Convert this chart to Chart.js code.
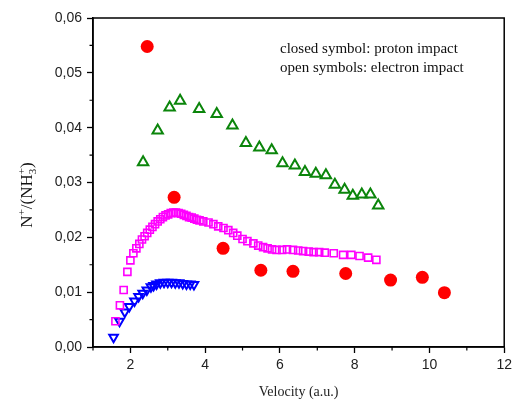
<!DOCTYPE html>
<html><head><meta charset="utf-8">
<script src="https://cdn.jsdelivr.net/npm/chart.js@4"></script>
<style>html,body{margin:0;padding:0;background:#fff;}#wrap{width:516px;height:403px;}</style>
</head><body><div id="wrap"><canvas id="c" width="516" height="403"></canvas></div>
<script>
// ---- data ----
const protonX = [2.45, 3.17, 4.48, 5.49, 6.35, 7.76, 8.96, 9.81, 10.40];
const protonY = [0.0548, 0.0273, 0.0180, 0.0140, 0.0138, 0.0134, 0.0122, 0.0127, 0.0099];

const greenX = [2.34, 2.73, 3.05, 3.33, 3.84, 4.31, 4.73, 5.09, 5.45, 5.78, 6.07, 6.40, 6.67, 6.96, 7.23, 7.47, 7.73, 7.95, 8.19, 8.42, 8.63];
const greenY = [0.0337, 0.0395, 0.0437, 0.0449, 0.0434, 0.0425, 0.0404, 0.0372, 0.0364, 0.0359, 0.0335, 0.0331, 0.0319, 0.0316, 0.0313, 0.0296, 0.0287, 0.0276, 0.0278, 0.0278, 0.0258];

const magentaX = [1.60, 1.72, 1.82, 1.92, 2.00, 2.08, 2.16, 2.24, 2.31, 2.38, 2.45, 2.52, 2.59, 2.66, 2.73, 2.80, 2.87, 2.94, 3.01, 3.08, 3.15, 3.22, 3.29, 3.36, 3.43, 3.50, 3.57, 3.64, 3.71, 3.78, 3.85, 3.95, 4.09, 4.22, 4.35, 4.49, 4.62, 4.75, 4.86, 5.00, 5.13, 5.29, 5.42, 5.55, 5.67, 5.79, 5.91, 6.06, 6.19, 6.35, 6.49, 6.62, 6.77, 6.90, 7.05, 7.20, 7.44, 7.69, 7.91, 8.13, 8.36, 8.58];
const magentaY = [0.0047, 0.0076, 0.0104, 0.0137, 0.0158, 0.0171, 0.0180, 0.0188, 0.0196, 0.0202, 0.0208, 0.0214, 0.0219, 0.0224, 0.0229, 0.0233, 0.0237, 0.0240, 0.0242, 0.0244, 0.0245, 0.0245, 0.0244, 0.0243, 0.0241, 0.0239, 0.0237, 0.0236, 0.0234, 0.0232, 0.0231, 0.0229, 0.0227, 0.0224, 0.0220, 0.0217, 0.0213, 0.0208, 0.0203, 0.0197, 0.0193, 0.0189, 0.0185, 0.0182, 0.0180, 0.0178, 0.0177, 0.0177, 0.0178, 0.0177, 0.0176, 0.0175, 0.0174, 0.0173, 0.0173, 0.0172, 0.0171, 0.0168, 0.0168, 0.0166, 0.0163, 0.0159];

const blueX = [1.55, 1.71, 1.85, 1.97, 2.11, 2.22, 2.33, 2.44, 2.55, 2.62, 2.70, 2.80, 2.90, 3.00, 3.10, 3.20, 3.30, 3.40, 3.50, 3.60, 3.70];
const blueY = [0.0018, 0.0047, 0.0064, 0.0074, 0.0084, 0.0092, 0.0098, 0.0104, 0.0110, 0.0112, 0.0115, 0.0117, 0.0118, 0.0118, 0.0118, 0.0117, 0.0117, 0.0116, 0.0115, 0.0115, 0.0114];

const xTicks = [2, 4, 6, 8, 10, 12];
const xMinorTicks = [1, 3, 5, 7, 9, 11];
const yTicks = [0, 0.01, 0.02, 0.03, 0.04, 0.05, 0.06];
const yMinorTicks = [0.005, 0.015, 0.025, 0.035, 0.045, 0.055];
const xTitle = 'Velocity (a.u.)';
const noteLines = ['closed symbol: proton impact', 'open symbols: electron impact'];

function pts(xs, ys) { return xs.map((x, i) => ({ x: x, y: ys[i] })); }

const SERIF = "'Liberation Serif', 'Times New Roman', serif";
Chart.defaults.font.family = "'Liberation Sans', Arial, sans-serif";

const decor = {
  id: 'decor',
  afterDraw(chart) {
    const ctx = chart.ctx, a = chart.chartArea, sx = chart.scales.x, sy = chart.scales.y;
    ctx.save();
    ctx.strokeStyle = '#000';
    ctx.lineWidth = 1.5;
    ctx.strokeRect(a.left, a.top, a.right - a.left, a.bottom - a.top);
    ctx.lineWidth = 1.2;
    ctx.beginPath();
    xMinorTicks.forEach(v => { const p = sx.getPixelForValue(v); ctx.moveTo(p, a.bottom); ctx.lineTo(p, a.bottom + 3.5); });
    yMinorTicks.forEach(v => { const p = sy.getPixelForValue(v); ctx.moveTo(a.left, p); ctx.lineTo(a.left - 3.5, p); });
    ctx.stroke();

    // annotation
    ctx.fillStyle = '#111';
    ctx.font = '15px ' + SERIF;
    ctx.textAlign = 'left';
    ctx.textBaseline = 'alphabetic';
    ctx.fillText(noteLines[0], 280, 53);
    ctx.fillText(noteLines[1], 280, 72);

    // y title N+/(NH3+)
    ctx.textBaseline = 'middle';
    ctx.translate(28, 195);
    ctx.rotate(-Math.PI / 2);
    const big = '17px ' + SERIF, small = '11px ' + SERIF;
    const segs = [
      { t: 'N', f: big, dy: 0 },
      { t: '+', f: small, dy: -6 },
      { t: '/(NH', f: big, dy: 0 },
      { t: '3', f: small, dy: 5, t2: '+', dy2: -6 },
      { t: ')', f: big, dy: 0 }
    ];
    let w = 0;
    segs.forEach(s => { ctx.font = s.f; s.w = ctx.measureText(s.t).width; if (s.t2) s.w = Math.max(s.w, ctx.measureText(s.t2).width); w += s.w; });
    let xx = -w / 2;
    ctx.textAlign = 'left';
    segs.forEach(s => {
      ctx.font = s.f;
      ctx.fillText(s.t, xx, s.dy);
      if (s.t2) ctx.fillText(s.t2, xx, s.dy2);
      xx += s.w;
    });
    ctx.restore();
  }
};

new Chart(document.getElementById('c'), {
  type: 'scatter',
  data: {
    datasets: [
      { label: 'proton', data: pts(protonX, protonY), pointStyle: 'circle', pointRadius: 6.5, backgroundColor: '#ff0000', borderColor: '#ff0000', borderWidth: 0 },
      { label: 'electron A', data: pts(greenX, greenY), pointStyle: 'triangle', pointRadius: 6, backgroundColor: 'rgba(0,0,0,0)', borderColor: '#0b850b', borderWidth: 2 },
      { label: 'electron B', data: pts(magentaX, magentaY), pointStyle: 'rect', pointRadius: 5, backgroundColor: 'rgba(0,0,0,0)', borderColor: '#ff00ff', borderWidth: 1.6 },
      { label: 'electron C', data: pts(blueX, blueY), pointStyle: 'triangle', rotation: 180, pointRadius: 5, backgroundColor: 'rgba(0,0,0,0)', borderColor: '#0000ff', borderWidth: 2 }
    ]
  },
  options: {
    responsive: false,
    animation: false,
    layout: { padding: { top: 18, right: 11, left: 0, bottom: 0 } },
    plugins: { legend: { display: false }, tooltip: { enabled: false } },
    scales: {
      x: {
        type: 'linear', position: 'bottom', min: 1, max: 12,
        afterBuildTicks: s => { s.ticks = xTicks.map(v => ({ value: v })); },
        afterFit: s => { s.height = 56; },
        grid: { drawOnChartArea: false, drawTicks: true, tickLength: 6, color: '#000', tickWidth: 1.3 },
        border: { display: true, color: '#000', width: 1.5 },
        ticks: { color: '#222', font: { size: 14 }, padding: 4, maxRotation: 0 },
        title: { display: true, text: xTitle, color: '#222', font: { family: SERIF, size: 14 }, padding: { top: 0, bottom: 2 } }
      },
      y: {
        type: 'linear', position: 'left', min: 0, max: 0.06,
        afterBuildTicks: s => { s.ticks = yTicks.map(v => ({ value: v })); },
        afterFit: s => { s.width = 93; },
        grid: { drawOnChartArea: false, drawTicks: true, tickLength: 6, color: '#000', tickWidth: 1.3 },
        border: { display: true, color: '#000', width: 1.5 },
        ticks: { color: '#222', font: { size: 14 }, padding: 5, callback: v => v.toFixed(2).replace('.', ',') }
      }
    }
  },
  plugins: [decor]
});
</script>
</body></html>
